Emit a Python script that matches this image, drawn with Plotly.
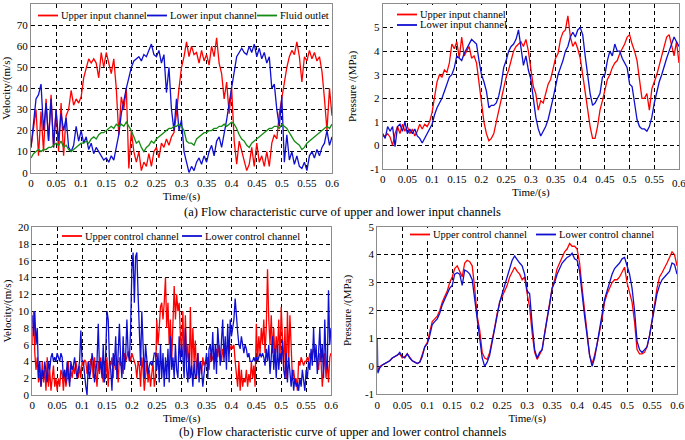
import plotly.graph_objects as go

# ---------------- time grids (sample instants) ----------------
t5 = [round(i * 0.005, 4) for i in range(121)]
t25 = [round(i * 0.0025, 4) for i in range(241)]

# ---------------- (a) left: velocity of input channels ----------------
vel_upper_input = [
    12, 20, 30, 8, 29, 10, 35, 15, 37, 12,
    30, 10, 33, 8, 27, 30, 39, 32, 35, 33,
    36, 45, 50, 54, 52, 54, 52, 45, 57, 50,
    57, 52, 47, 54, 40, 18, 36, 30, 40, 2,
    20, 10, 5, 10, 1, 5, 3, 9, 3, 10,
    12, 7, 14, 12, 16, 13, 17, 19, 28, 40,
    50, 55, 62, 55, 60, 56, 57, 52, 58, 53,
    56, 51, 60, 55, 64, 52, 47, 35, 43, 28,
    40, 15, 4, 15, 10, 5, 1, 4, 12, 3,
    14, 5, 8, 3, 10, 3, 14, 18, 16, 28,
    36, 44, 50, 55, 58, 56, 62, 55, 43, 55,
    53, 58, 54, 57, 53, 55, 48, 35, 20, 40,
    27]
vel_lower_input = [
    12, 25, 35, 37, 42, 20, 33, 15, 35, 12,
    30, 15, 28, 20, 26, 12, 10, 13, 22, 15,
    20, 14, 17, 11, 14, 9, 12, 10, 8, 6,
    7, 5, 8, 6, 12, 18, 28, 35, 40, 45,
    50, 53, 54, 55, 53, 56, 55, 58, 61, 56,
    55, 58, 52, 56, 38, 50, 30, 20, 35, 20,
    25, 10, 5, 0, 3, 1, 5, 7, 4, 8,
    5, 10, 13, 8, 15, 17, 12, 18, 25, 33,
    40, 48, 55, 57, 59, 57, 56, 60, 57, 61,
    55, 59, 54, 57, 52, 55, 40, 42, 30, 22,
    36, 5, 18, 6, 10, 4, 8, 3, 2, 5,
    1, 8, 10, 7, 11, 8, 12, 14, 20, 13,
    17]
vel_fluid_outlet = [
    7, 9, 10, 11, 10, 11, 11, 12, 12, 13,
    14, 13, 15, 12, 13, 11, 10, 11, 12, 13,
    14, 14, 15, 14, 16, 17, 16, 18, 19, 19,
    20, 21, 22, 21, 23, 22, 23, 22, 24, 22,
    20, 17, 14, 15, 12, 10, 12, 13, 15, 14,
    16, 17, 18, 19, 20, 21, 21, 22, 22, 23,
    22, 20, 15, 14, 14, 13, 16, 17, 18, 19,
    19, 20, 20, 21, 21, 22, 22, 23, 22, 23,
    24, 23, 21, 18, 16, 15, 13, 12, 14, 15,
    16, 17, 18, 19, 20, 21, 21, 22, 22, 21,
    23, 22, 21, 19, 17, 15, 14, 13, 11, 12,
    14, 15, 16, 17, 18, 19, 20, 21, 22, 21,
    23]

# ---------------- (a) right: pressure of input channels ----------------
p_upper_input = [
    0.4, 0.4, 0.5, 0.35, 0.0, 0.5, 0.8, 0.5, 0.9, 0.6,
    0.8, 0.5, 0.7, 0.4, 0.6, 0.9, 0.7, 0.9, 0.8, 1.0,
    1.4, 2.0, 2.7, 3.0, 2.9, 3.2, 3.1, 3.5, 4.3, 4.1,
    4.4, 3.7, 4.6, 3.8, 4.0, 4.2, 3.7, 3.8, 3.5, 2.7,
    1.8, 1.0, 0.5, 0.2, 0.3, 0.5, 1.0, 1.5, 2.0, 2.5,
    2.9, 3.2, 3.6, 4.0, 4.2, 4.3, 4.4, 4.2, 4.5, 4.0,
    3.2, 2.5, 2.2, 1.5, 1.9, 1.8, 2.2, 2.6, 2.8, 3.2,
    3.7, 3.9, 4.5, 4.8, 4.9, 5.5, 4.6, 4.2, 4.4, 4.1,
    3.7, 3.0, 2.2, 1.5, 0.8, 0.3, 0.3, 0.8, 1.5, 1.9,
    2.3, 2.8, 3.0, 3.3, 3.5, 3.6, 3.9, 4.1, 4.3, 4.6,
    4.7, 4.3, 4.0, 3.6, 2.8, 2.0, 2.0, 2.2, 1.5, 2.4,
    2.7, 3.0, 3.4, 3.8, 4.2, 4.6, 4.7, 4.3, 3.8, 4.4,
    3.5]
p_lower_input = [
    0.5, 0.3, 0.8, 0.6, 0.8, -0.05, 0.8, 0.9, 0.6, 1.0,
    0.5, 0.7, 0.5, 0.7, 0.4, 0.3, 0.1, 0.3, 0.5, 0.7,
    0.9, 1.3, 1.6, 1.8, 2.0, 2.3, 2.6, 2.9, 3.0, 3.3,
    3.8, 3.7, 3.6, 3.9, 4.1, 4.3, 4.5, 4.4, 4.3, 3.6,
    3.0, 2.7, 2.3, 1.6, 1.7, 1.7, 1.8, 2.1, 2.6, 3.3,
    3.6, 4.0, 4.2, 4.3, 4.5, 4.9, 4.1, 3.4, 3.8, 3.2,
    2.8, 2.0, 1.2, 0.7, 0.4, 0.6, 0.8, 1.1, 1.5, 2.0,
    2.5, 3.0, 3.3, 3.6, 4.0, 4.2, 4.6, 4.8, 4.6, 4.9,
    5.0, 4.7, 3.8, 3.0, 2.2, 1.7, 1.8, 2.0, 2.2, 2.9,
    3.0, 3.6, 4.0, 3.8, 4.3, 4.0, 4.0, 3.7, 3.5, 3.3,
    2.6, 2.5, 1.8, 1.1, 0.8, 0.7, 0.7, 0.6, 0.8, 1.2,
    1.8, 2.3, 2.7, 3.0, 3.4, 3.7, 4.0, 4.3, 4.6, 4.4,
    4.2]

# ---------------- (b) left: velocity of control channels ----------------
vel_upper_control = [
    6, 10, 5, 3, 4.5, 1.5, 2.5, 1, 4, 1.5, 3, 0.5, 4.5, 1, 3, 0.5, 2, 3.5, 1, 2,
    0.5, 2, 1, 3, 2.5, 0.5, 3, 1, 2, 4, 1.5, 3, 2, 3.5, 2.5, 4, 3, 2, 3.5, 2,
    4, 3.5, 4.2, 4, 2.5, 4, 3, 4.3, 4, 2, 4.5, 3, 1, 4, 2.5, 4.5, 3, 1.5, 4, 2,
    4.5, 1, 4, 3.5, 4.5, 2, 4.8, 3, 4, 1.5, 4.5, 3.5, 4, 2.5, 5, 4, 4.5, 5.2, 4.8, 4,
    5, 4.5, 4, 3.5, 2, 4, 3.5, 1, 4.5, 3, 0.5, 2, 4, 1.5, 3, 1, 2.5, 4, 1, 2,
    9, 6, 8, 10.5, 11, 9, 11, 14, 8, 11, 6, 9, 4, 8, 13, 9, 12, 10, 11, 7,
    5, 10, 3, 9.5, 4, 6, 2, 10.5, 3, 8, 4, 6.5, 2, 5, 3, 4, 2.5, 4.5, 3.5, 4,
    4, 4.5, 3, 5, 4, 4.5, 5, 4, 5.5, 4.5, 6, 5, 4, 5.5, 4.5, 5, 5.5, 6, 5, 5.5,
    6, 5.5, 6, 4, 2, 1, 4, 0.5, 3, 1, 2, 1.5, 3, 1, 2.5, 1.5, 4, 2, 3.5, 1,
    8.5, 4, 7, 5, 8, 6, 9, 5, 8, 15, 9, 6, 9.5, 5, 8, 4, 7, 5, 9, 4,
    10.5, 6, 3, 8, 2, 10, 4, 9.5, 5, 2, 3, 1.5, 2, 0.5, 4, 3.5, 4.5, 4, 3.5, 4,
    4, 4.5, 4, 5, 4.5, 5, 5.5, 4.5, 5, 4, 3, 5, 4, 1, 3.5, 5, 2, 4, 1.5, 4.5, 5]
vel_lower_control = [
    9.5, 7, 10, 6, 8, 2, 4, 1, 3, 2, 4, 3, 1.5, 4, 3, 4.5, 5, 4, 4.5, 4,
    5, 4.5, 4, 5, 4.5, 2, 3, 1.5, 4, 2.5, 1, 4, 3, 3.5, 4.5, 3, 2, 3, 4, 7.7,
    4, 4, 2, 1, 0, 4, 2, 3, 5, 4, 1.5, 3, 4, 8.5, 3, 4, 2, 6, 1.5, 5,
    10, 9, 4, 3, 0.5, 5, 3.5, 7, 2, 5, 8.5, 4, 2, 7, 3, 4.5, 9, 5, 4, 8,
    15, 17, 11, 16.5, 17, 12, 8, 3.5, 10, 5, 2, 6, 4, 2.5, 3.5, 4, 3.5, 4, 5, 5,
    3, 5, 1.5, 6, 2, 5, 1, 4.5, 2, 5.5, 1.5, 7, 3, 4.5, 2, 6, 3, 2, 7, 4,
    6, 4.5, 2, 8, 3, 1.5, 5, 2, 3.5, 1, 4, 2, 2.5, 5, 1.5, 4, 3, 1, 2.5, 4,
    5, 2, 5.5, 6, 4, 7.5, 3, 6, 2.5, 8, 5, 3.5, 6.5, 9, 4, 7, 3, 8.5, 4, 9,
    7, 8, 9, 11.5, 9, 7.5, 6, 5.5, 7, 6, 5, 6, 5.5, 4.5, 5, 4, 4, 4, 4.5, 4,
    4.5, 4, 4.5, 5, 4.5, 5, 4.5, 3.5, 5.5, 4, 6, 2.5, 4.5, 7, 3, 5.5, 2, 6, 3, 5,
    4, 6.5, 3, 2, 5, 1.5, 4.5, 2, 1, 3, 0.5, 2, 1, 1.5, 0.5, 2, 1, 3, 1.5, 0.5,
    3, 2, 4, 3, 5.5, 3.5, 8, 4, 6, 2.5, 5, 8, 4, 6, 2, 9, 4, 3, 12.5, 6, 8]

# ---------------- (b) right: pressure of control channels ----------------
p_upper_control = [
    -0.2, 0.0, 0.05, 0.1, 0.15, 0.2, 0.3, 0.35, 0.4, 0.45,
    0.3, 0.35, 0.45, 0.3, 0.2, 0.15, 0.1, 0.15, 0.4, 0.7,
    0.85, 1.2, 1.6, 1.7, 1.8, 2.0, 2.3, 2.5, 2.7, 3.0,
    3.2, 3.5, 3.6, 3.4, 3.2, 3.7, 3.8, 3.75, 3.6, 2.8,
    1.8, 1.3, 0.5, 0.3, 0.25, 0.5, 0.9, 1.4, 1.9, 2.3,
    2.5, 2.7, 2.9, 3.2, 3.4, 3.55, 3.4, 3.3, 3.1, 3.2,
    2.6, 2.1, 1.2, 0.5, 0.25, 0.4, 0.6, 1.2, 1.7, 2.2,
    2.8, 3.1, 3.5, 3.7, 3.9, 4.1, 4.2, 4.4, 4.3, 4.3,
    4.2, 3.7, 2.8, 2.0, 1.2, 0.4, 0.1, 0.4, 0.8, 1.2,
    1.7, 2.3, 2.6, 2.8, 3.0, 3.1, 3.1, 3.2, 3.4, 3.55,
    3.0, 2.6, 2.3, 1.6, 0.6, 0.45, 0.45, 0.5, 0.7, 1.1,
    1.6, 2.2, 2.8, 3.2, 3.35, 3.5, 3.7, 3.9, 4.1, 4.0,
    3.6]
t_lower_control = [0.0, 0.001] + t5[1:]
p_lower_control = [
    1.0, -0.25, -0.05, 0.05, 0.1, 0.15, 0.2, 0.3, 0.35, 0.4, 0.5,
    0.35, 0.3, 0.45, 0.3, 0.2, 0.15, 0.1, 0.15, 0.35, 0.7,
    0.8, 1.1, 1.5, 1.6, 1.7, 1.9, 2.2, 2.4, 2.6, 2.8,
    2.9, 3.3, 3.35, 3.3, 2.9, 3.45, 3.4, 3.3, 3.1, 2.4,
    1.6, 1.0, 0.3, 0.0, 0.15, 0.4, 0.9, 1.4, 1.9, 2.3,
    2.6, 2.9, 3.2, 3.5, 3.8, 3.95, 3.8, 3.7, 3.6, 3.3,
    2.7, 2.6, 1.5, 0.6, 0.3, 0.5, 0.6, 1.2, 1.7, 2.2,
    2.8, 3.0, 3.3, 3.5, 3.7, 3.8, 3.9, 3.95, 4.05, 3.85,
    3.8, 3.4, 2.5, 1.8, 1.1, 0.4, 0.0, 0.3, 0.8, 1.3,
    1.8, 2.4, 2.7, 3.0, 3.3, 3.5, 3.6, 3.7, 3.85, 3.9,
    3.6, 3.3, 2.8, 2.0, 0.9, 0.6, 0.5, 0.6, 0.7, 1.1,
    1.6, 2.2, 2.6, 2.9, 3.1, 3.2, 3.3, 3.4, 3.7, 3.65,
    3.3]

# ---------------- axis ticks and texts ----------------
time_ticks = [0, 0.05, 0.1, 0.15, 0.2, 0.25, 0.3, 0.35, 0.4, 0.45, 0.5, 0.55, 0.6]
time_tick_text = ["0", "0.05", "0.1", "0.15", "0.2", "0.25", "0.3", "0.35", "0.4", "0.45", "0.5", "0.55", "0.6"]
vel_a_ticks = [0, 10, 20, 30, 40, 50, 60, 70, 80]
vel_b_ticks = [0, 2, 4, 6, 8, 10, 12, 14, 16, 18, 20]
p_a_ticks = [-1, 0, 1, 2, 3, 4, 5, 6]
p_a_tick_text = ["-1", "0", "1", "2", "3", "4", "5", "6"]
p_b_ticks = [-1, 0, 1, 2, 3, 4, 5]
p_b_tick_text = ["-1", "0", "1", "2", "3", "4", "5"]
caption_a = "(a) Flow characteristic curve of upper and lower input channels"
caption_b = "(b) Flow characteristic curve of upper and lower control channels"

RED = "#ff0000"
BLUE = "#0f0fd2"
GREEN = "#148c14"
FONT = "Liberation Serif, Times New Roman, serif"
W, H = 685, 440

# subplot areas in pixels: (left, right, top, bottom)
BOX = {
    1: (31, 332, 4, 172.7),
    2: (382.7, 679, 4, 169),
    3: (32.3, 331, 227.3, 395),
    4: (377.3, 677, 226.7, 394.3),
}

def dom_x(k):
    l, r, _, _ = BOX[k]
    return [l / W, r / W]

def dom_y(k):
    _, _, t, b = BOX[k]
    return [1 - b / H, 1 - t / H]

fig = go.Figure()

def line(x, y, name, color, xa, ya):
    fig.add_trace(go.Scatter(x=x, y=y, mode="lines", name=name,
                             line=dict(color=color, width=1.3),
                             xaxis=xa, yaxis=ya, showlegend=False, hoverinfo="skip"))

line(t5, vel_upper_input, "Upper input channel", RED, "x", "y")
line(t5, vel_lower_input, "Lower input channel", BLUE, "x", "y")
line(t5, vel_fluid_outlet, "Fluid outlet", GREEN, "x", "y")
line(t5, p_upper_input, "Upper input channel", RED, "x2", "y2")
line(t5, p_lower_input, "Lower input channel", BLUE, "x2", "y2")
line(t25, vel_upper_control, "Upper control channel", RED, "x3", "y3")
line(t25, vel_lower_control, "Lower control channel", BLUE, "x3", "y3")
line(t5, p_upper_control, "Upper control channel", RED, "x4", "y4")
line(t_lower_control, p_lower_control, "Lower control channel", BLUE, "x4", "y4")

TF = dict(size=11, family=FONT, color="black")
LF = dict(size=10.5, family=FONT, color="black")
grid = dict(showgrid=True, gridcolor="black", gridwidth=1, griddash="4px,3px",
            zeroline=False, showline=True, mirror=True, linecolor="#8c8c8c",
            linewidth=1, ticks="", tickfont=TF, automargin=False, fixedrange=True)

def xaxis(k, anchor):
    return dict(domain=dom_x(k), anchor=anchor, range=[0, 0.6], tickvals=time_ticks,
                ticktext=time_tick_text,
                title=dict(text="Time/(s)", font=TF, standoff=4),
                **grid)

def yaxis(k, anchor, rng, tv, tt, title, standoff):
    return dict(domain=dom_y(k), anchor=anchor, range=rng, tickvals=tv, ticktext=tt,
                title=dict(text=title, font=TF, standoff=standoff),
                **grid)

# ---------------- hand-built legends (white box, short line, text) ----------------
boxes = []
marks = []
annotations = []

def legend_box(x0, x1, y0, y1):
    boxes.append(dict(type="rect", xref="paper", yref="paper", layer="above",
                      x0=x0 / W, x1=x1 / W, y0=1 - y1 / H, y1=1 - y0 / H,
                      fillcolor="white", line=dict(width=0)))

def legend_item(x, y, name, color):
    marks.append(dict(type="line", xref="paper", yref="paper", layer="above",
                      x0=x / W, x1=(x + 20) / W, y0=1 - y / H, y1=1 - y / H,
                      line=dict(color=color, width=1.8)))
    annotations.append(dict(text=name, xref="paper", yref="paper", x=(x + 21) / W, y=1 - y / H,
                            xanchor="left", yanchor="middle", showarrow=False, font=LF))

legend_box(34, 330, 8, 23)
legend_item(38, 15.5, "Upper input channel", RED)
legend_item(147, 15.5, "Lower input channel", BLUE)
legend_item(257, 15.5, "Fluid outlet", GREEN)

legend_box(393, 506, 5, 31)
legend_item(397, 14.5, "Upper input channel", RED)
legend_item(397, 25, "Lower input channel", BLUE)

legend_box(58, 298, 229, 243)
legend_item(62, 236, "Upper control channel", RED)
legend_item(182, 236, "Lower control channel", BLUE)

legend_box(405, 653, 228, 241)
legend_item(410, 234.5, "Upper control channel", RED)
legend_item(536, 234.5, "Lower control channel", BLUE)

# last time tick of the top-right panel sits on the page edge (partly cut in the original)
annotations.append(dict(text=time_tick_text[-1], x=679 / W, y=1 - 183.5 / H, xref="paper", yref="paper",
                        xanchor="center", yanchor="middle", showarrow=False, font=TF))

annotations.append(dict(text=caption_a, x=0.5, y=1 - 212 / H, xref="paper", yref="paper",
                        showarrow=False, font=dict(size=12.5, family=FONT, color="black")))
annotations.append(dict(text=caption_b, x=0.5, y=1 - 432 / H, xref="paper", yref="paper",
                        xanchor="center", yanchor="middle",
                        showarrow=False, font=dict(size=12.5, family=FONT, color="black")))

fig.update_layout(
    width=W, height=H, margin=dict(l=0, r=0, t=0, b=0, autoexpand=False),
    paper_bgcolor="white", plot_bgcolor="white",
    font=dict(family=FONT, color="black"),
    showlegend=False, hovermode=False,
    xaxis=xaxis(1, "y"),
    yaxis=yaxis(1, "x", [0, 80], vel_a_ticks, [str(v) for v in vel_a_ticks], "Velocity/(m/s)", 4),
    xaxis2=xaxis(2, "y2"),
    yaxis2=yaxis(2, "x2", [-1, 6], p_a_ticks, p_a_tick_text, "Pressure /(MPa)", 11),
    xaxis3=xaxis(3, "y3"),
    yaxis3=yaxis(3, "x3", [0, 20], vel_b_ticks, [str(v) for v in vel_b_ticks], "Velocity/(m/s)", 4),
    xaxis4=xaxis(4, "y4"),
    yaxis4=yaxis(4, "x4", [-1, 5], p_b_ticks, p_b_tick_text, "Pressure /(MPa)", 11),
    shapes=boxes + marks,
    annotations=annotations,
)

fig.write_html("out.html", config={"displayModeBar": False, "staticPlot": True},
               post_script="document.body.style.margin='0';document.body.style.overflow='hidden';")
